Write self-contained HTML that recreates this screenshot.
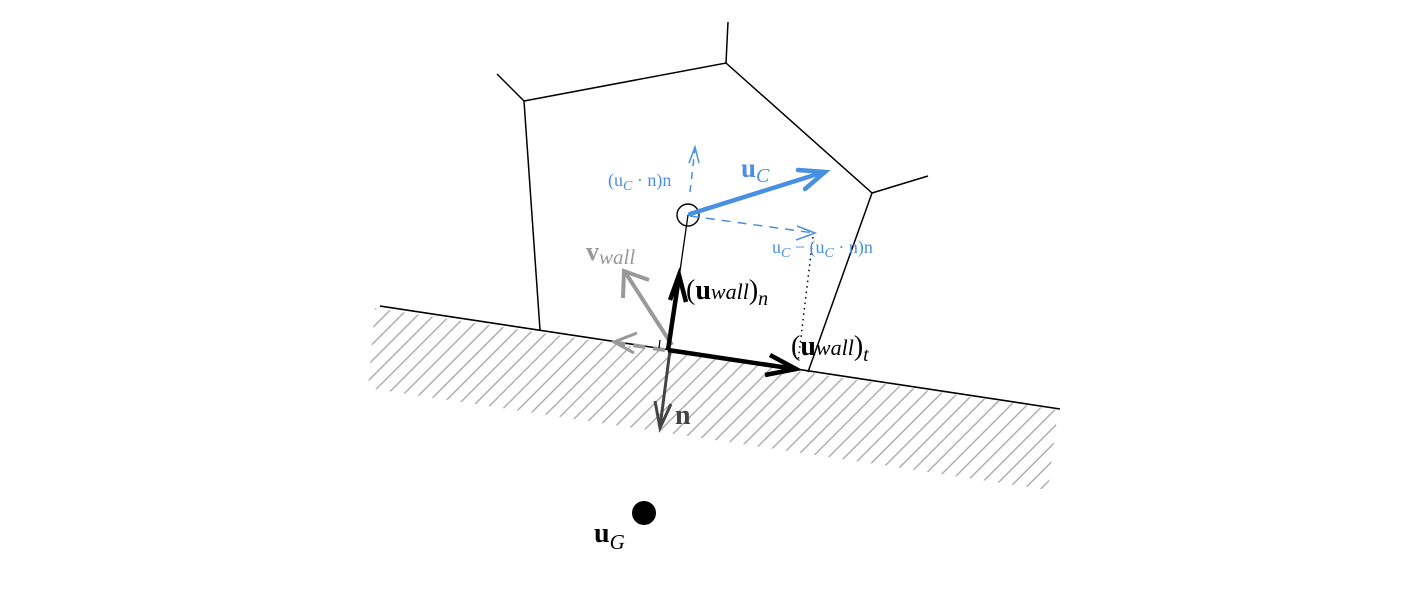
<!DOCTYPE html>
<html><head><meta charset="utf-8"><style>
html,body{margin:0;padding:0;background:#fff;width:1402px;height:602px;overflow:hidden}
svg{display:block}
text{font-family:"Liberation Serif",serif}
</style></head><body>
<svg width="1402" height="602" viewBox="0 0 1402 602" xmlns="http://www.w3.org/2000/svg">
<defs>
<pattern id="hatch" patternUnits="userSpaceOnUse" width="11.5" height="11.5" patternTransform="rotate(45)">
<line x1="0" y1="0" x2="0" y2="11.5" stroke="#a4a4a4" stroke-width="2.6"/>
</pattern>
<clipPath id="wallclip"><polygon points="375,308 1058,410 1048,490 368,388"/></clipPath>
</defs>
<g>
<rect x="360" y="300" width="710" height="200" fill="url(#hatch)" clip-path="url(#wallclip)"/>
</g>
<line x1="380" y1="306" x2="1060" y2="409" stroke="#000" stroke-width="1.6"/>
<g fill="none" stroke="#000" stroke-width="1.5">
<polyline points="540,330 524,101 726,63 872,193 808,372"/>
<line x1="524" y1="101" x2="497" y2="74"/>
<line x1="726" y1="63" x2="728" y2="22"/>
<line x1="872" y1="193" x2="928" y2="176"/>
</g>
<line x1="688" y1="215" x2="678" y2="285" stroke="#000" stroke-width="1.3"/>
<circle cx="688" cy="215" r="11" fill="none" stroke="#000" stroke-width="1.4"/>
<line x1="813" y1="237" x2="798" y2="362" stroke="#000" stroke-width="1.5" stroke-dasharray="1.5,4"/>
<g stroke="#4a90e2" stroke-width="1.5" fill="none">
<line x1="690" y1="192" x2="695" y2="148" stroke-dasharray="7,6"/>
<polyline points="689,163 695,147 699,163"/>
</g>
<g stroke="#4a90e2" stroke-width="1.5" fill="none">
<line x1="690" y1="216" x2="814" y2="233" stroke-dasharray="9,7"/>
<polyline points="797,226 815,233 796,240"/>
</g>
<g stroke="#4a90e2" stroke-width="4.5" fill="none" stroke-linecap="round">
<line x1="690" y1="214" x2="824" y2="172"/>
<polyline points="798,170 825,172 805,189"/>
</g>
<g stroke="#999" stroke-width="4" fill="none">
<line x1="672" y1="345" x2="625" y2="272"/>
<polyline points="623,298 624,271 649,280"/>
<line x1="665" y1="350" x2="618" y2="343" stroke-dasharray="12,8"/>
<polyline points="637,333 614,342 634,353" stroke-width="3"/>
</g>
<g stroke="#444" stroke-width="3" fill="none">
<line x1="670" y1="350" x2="660" y2="427"/>
<polyline points="655,401 660,428 671,404"/>
</g>
<g stroke="#000" stroke-width="4.5" fill="none">
<line x1="668" y1="350" x2="679" y2="277"/>
<polyline points="670,300 679,275 686,302"/>
</g>
<g stroke="#000" stroke-width="4.5" fill="none">
<line x1="668" y1="350" x2="795" y2="369"/>
<polyline points="770,355 796,369 765,375"/>
</g>
<polyline points="660,340 659,348" stroke="#000" stroke-width="1.2" fill="none"/>
<circle cx="644" cy="513" r="12" fill="#000"/>
<text x="741" y="177" font-size="27" font-weight="bold" fill="#4a90e2">u<tspan font-size="20" font-style="italic" font-weight="normal" dy="5">C</tspan></text>
<text x="608" y="186" font-size="18" fill="#4a90e2">(u<tspan font-size="14" dy="4" font-style="italic">C</tspan><tspan dy="-4"> · n)n</tspan></text>
<text x="772" y="253" font-size="18" fill="#4a90e2">u<tspan font-size="14" dy="4" font-style="italic">C</tspan><tspan dy="-4"> − (u</tspan><tspan font-size="14" dy="4" font-style="italic">C</tspan><tspan dy="-4"> · n)n</tspan></text>
<text x="586" y="260" font-size="26" font-weight="bold" fill="#999">v<tspan font-size="21" font-style="italic" font-weight="normal" dy="4">wall</tspan></text>
<text x="686" y="299" font-size="28" fill="#000">(<tspan font-weight="bold">u</tspan><tspan font-size="22" font-style="italic">wall</tspan>)<tspan font-size="20" font-style="italic" dy="6">n</tspan></text>
<text x="791" y="355" font-size="28" fill="#000">(<tspan font-weight="bold">u</tspan><tspan font-size="22" font-style="italic">wall</tspan>)<tspan font-size="20" font-style="italic" dy="6">t</tspan></text>
<text x="675" y="424" font-size="28" font-weight="bold" fill="#444">n</text>
<text x="594" y="542" font-size="28" font-weight="bold" fill="#000">u<tspan font-size="21" font-style="italic" font-weight="normal" dy="7">G</tspan></text>
</svg>
</body></html>
